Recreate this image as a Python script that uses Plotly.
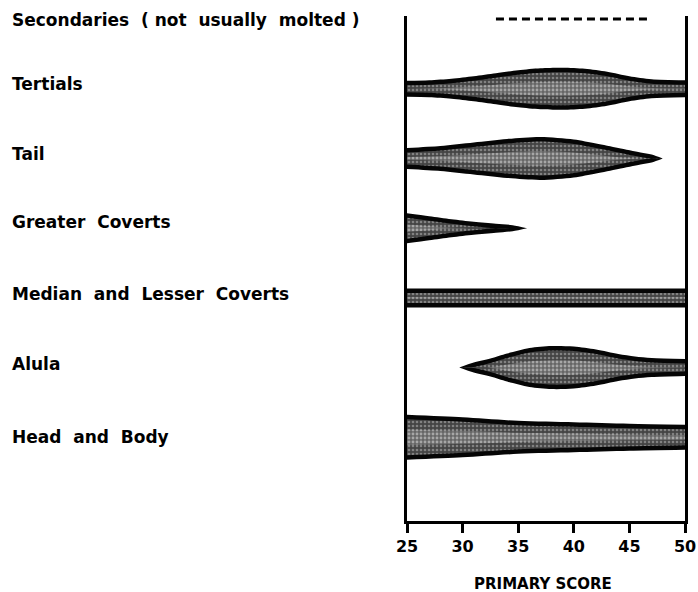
import plotly.graph_objects as go

# ---------------- data ----------------
tracts = ["Secondaries  ( not  usually  molted )", "Tertials", "Tail", "Greater  Coverts",
          "Median  and  Lesser  Coverts", "Alula", "Head  and  Body"]
row_pos = [0, 1, 2, 3, 4, 5, 6]

# secondaries: molt period (dashed)
secondaries_range = [33, 47]

# molt intensity (band half-thickness, relative units) vs primary score
tertials_x = [25, 27, 29, 31, 33, 35, 37, 39, 41, 43, 45, 47, 50]
tertials_w = [8, 8.5, 10, 12.5, 15.5, 18.5, 20.5, 21, 20, 17, 12.5, 9.5, 8.5]

tail_x = [25, 28, 31, 34, 37, 40, 42, 44, 46, 47, 48]
tail_w = [10.5, 12.5, 16, 19.5, 21.5, 19, 15, 10.5, 6, 4, 0]

greater_x = [25, 27, 29, 31, 33, 34.5, 35.8]
greater_w = [15, 12, 9, 6.5, 4.5, 3, 0]

median_x = [25, 30, 35, 40, 45, 50]
median_w = [9.5, 9.5, 9.5, 9.5, 9.5, 9.5]

alula_x = [29.7, 31, 32.5, 34, 36, 38, 40, 42, 44, 45.5, 47, 50]
alula_w = [0, 5, 9, 14, 19.5, 21.5, 21, 18, 13.5, 11, 9.5, 8.5]

head_x = [25, 30, 35, 40, 45, 50]
head_w = [22.5, 20, 16.5, 15, 13.5, 12.5]

x_ticks = [25, 30, 35, 40, 45, 50]

bands = [
    (1, tertials_x, tertials_w),
    (2, tail_x, tail_w),
    (3, greater_x, greater_w),
    (4, median_x, median_w),
    (5, alula_x, alula_w),
    (6, head_x, head_w),
]

# ---------------- style ----------------
SCALE = 1 / 69.7      # thickness units -> row units
BORDER = 4.5          # black rim thickness
FONT = "DejaVu Sans"

fig = go.Figure()

def add_band(xs, center, hw, fill=None, pattern=None):
    lower = [center + w * SCALE for w in hw]
    upper = [center - w * SCALE for w in hw]
    fig.add_trace(go.Scatter(x=xs, y=lower, mode="lines", line=dict(width=0, shape="spline", smoothing=0.8),
                             hoverinfo="skip", showlegend=False))
    kw = dict(fill="tonexty", fillcolor=fill)
    if pattern is not None:
        kw["fillpattern"] = pattern
    fig.add_trace(go.Scatter(x=xs, y=upper, mode="lines", line=dict(width=0, shape="spline", smoothing=0.8),
                             hoverinfo="skip", showlegend=False, **kw))

for row, xs, ws in bands:
    c = row_pos[row]
    add_band(xs, c, ws, fill="#050505")
    inner = [max(w - BORDER, 0) for w in ws]
    add_band(xs, c, inner, fill="#444444",
             pattern=dict(shape=".", bgcolor="#444444", fgcolor="#c0c0c0", size=4, solidity=0.35))
    core = [max(w * 0.55 - BORDER, 0) for w in ws]
    add_band(xs, c, core, fill="#707070",
             pattern=dict(shape=".", bgcolor="#666666", fgcolor="#e8e8e8", size=4, solidity=0.4))

# secondaries dashed segment
fig.add_trace(go.Scatter(x=secondaries_range, y=[row_pos[0], row_pos[0]], mode="lines",
                         line=dict(color="black", width=3, dash="8px,5px"),
                         hoverinfo="skip", showlegend=False))

# row labels
label_shift = [-1, 5, 4, 6, 4, 4, 0]
for name, r, s in zip(tracts, row_pos, label_shift):
    fig.add_annotation(x=-1.428, xref="paper", y=r, yref="y", text=name, showarrow=False,
                       xanchor="left", yanchor="middle", yshift=s,
                       font=dict(family=FONT, size=17, color="black", weight="bold"))

fig.add_annotation(x=0.49, xref="paper", y=0, yref="paper", yshift=-63, text="PRIMARY SCORE",
                   showarrow=False, xanchor="center", yanchor="middle",
                   font=dict(family=FONT, size=15, color="black", weight="bold"))

fig.update_layout(
    width=698, height=592,
    margin=dict(l=407, r=13, t=16, b=71, autoexpand=False),
    paper_bgcolor="white", plot_bgcolor="white",
    showlegend=False,
    xaxis=dict(range=[25, 50], tickvals=x_ticks, ticks="outside", ticklen=9, tickwidth=3,
               tickcolor="black", showline=True, linewidth=3, linecolor="black",
               showgrid=False, zeroline=False, automargin=False,
               tickfont=dict(family=FONT, size=16, color="black", weight="bold")),
    yaxis=dict(range=[7.2, -0.043], showline=True, mirror=True, linewidth=3, linecolor="black",
               showticklabels=False, ticks="", showgrid=False, zeroline=False, automargin=False),
)

fig.write_html("out.html", config={"displayModeBar": False},
               post_script="document.body.style.margin='0';document.body.style.overflow='hidden';")
